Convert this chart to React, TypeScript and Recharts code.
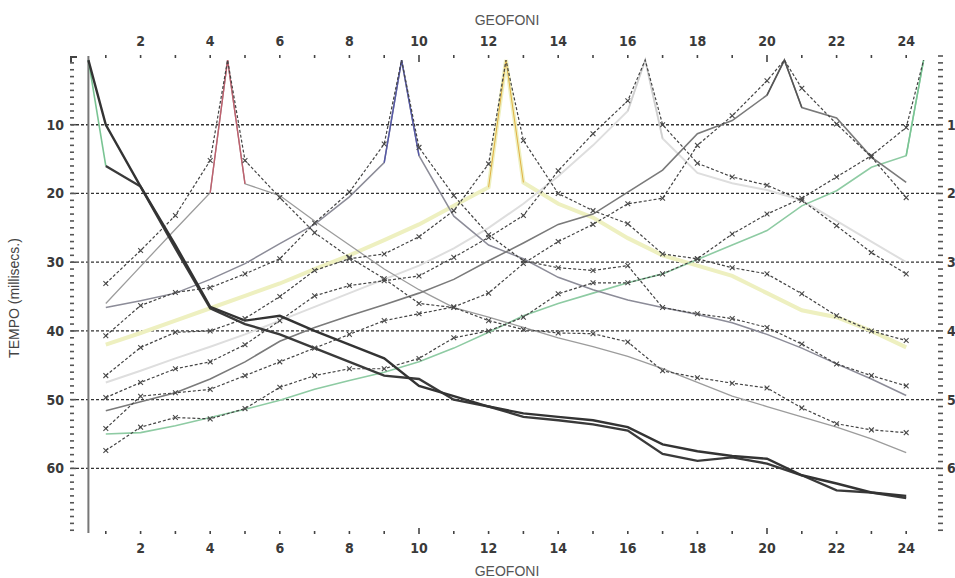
import React from "react";
import { LineChart, Line, XAxis, YAxis, ReferenceLine } from "recharts";

// geophone positions and shot points (in geophone units)
const geofoni = [1, 2, 3, 4, 5, 6, 7, 8, 9, 10, 11, 12, 13, 14, 15, 16, 17, 18, 19, 20, 21, 22, 23, 24];
const shotPos = [0.5, 4.5, 9.5, 12.5, 16.5, 20.5, 24.5];
const shotTime = [0.6, 0.6, 0.6, 0.6, 0.6, 0.6, 0.6];

const timeTicks = [10, 20, 30, 40, 50, 60];
const topLabels = [2, 4, 6, 8, 10, 12, 14, 16, 18, 20, 22, 24];

// observed first arrivals (ms) at geophones 1..24, one list per shot
const obs1 = [10, 19, 27.5, 36.5, 38.5, 37.8, 40, 42, 44, 48, 49.5, 51, 52, 52.5, 53, 54, 56.5, 57.5, 58.2, 58.6, 61, 62.2, 63.5, 64];
const obs2 = [33.1, 28.3, 23.2, 15.2, 15.2, 20.6, 25.7, 29.3, 32.4, 36, 36.6, 38.5, 39.8, 40.3, 40.4, 41.6, 45.8, 46.8, 47.6, 48.3, 51.2, 53.5, 54.4, 54.8];
const obs3 = [40.7, 36.3, 34.4, 33.7, 31.7, 29.5, 24.3, 19.8, 12.8, 13.3, 20.3, 26, 29.8, 30.8, 31.2, 30.5, 36.6, 37.5, 38.2, 39.5, 41.9, 44.8, 46.5, 48];
const obs4 = [46.5, 42.4, 40.2, 40, 38.2, 35, 31.2, 29.5, 28.8, 26.3, 22.5, 15.7, 12.3, 20, 22.5, 24.4, 28.8, 29.5, 30.8, 31.7, 34.6, 37.8, 40, 41.4];
const obs5 = [49.7, 47.5, 45.5, 44.5, 42, 38.5, 34.9, 33.4, 32.7, 32, 29.3, 26.4, 23.2, 16.7, 11.3, 6.5, 10, 15.6, 17.6, 18.8, 21, 24.7, 28.6, 31.7];
const obs6 = [54.2, 49.5, 49, 48.5, 46.5, 44.5, 42.5, 40.5, 38.5, 37.5, 36.5, 34.5, 30.2, 27, 24.5, 21.5, 20.7, 13, 8.7, 3.6, 4.7, 9.9, 14.7, 20.6];
const obs7 = [57.4, 54, 52.6, 52.8, 51.3, 48.2, 46.5, 45.5, 45.5, 44, 41, 40, 38, 34.6, 33, 33, 31.7, 29.5, 25.9, 23, 20.7, 17.6, 14.5, 10.4];

// computed travel times (ms) at geophones 1..24
const calc1 = [16, 19, 28, 36.7, 39, 40.5, 42.5, 44.5, 46.5, 47, 50, 51, 52.5, 53, 53.6, 54.5, 57.9, 58.9, 58.4, 59.3, 61, 63.2, 63.5, 64.3];
const calc2 = [36, 30.6, 25.2, 19.9, 18.6, 20.3, 24, 27.5, 31, 34, 36.6, 38, 39.5, 41, 42.3, 43.7, 45.5, 47.5, 49.5, 51, 52.5, 54, 55.7, 57.7];
const calc3 = [36.6, 35.6, 34.5, 32.5, 30.2, 27.3, 24.5, 20.5, 15.5, 14.5, 23.3, 27.5, 29.5, 32.2, 34, 35.5, 36.6, 37.6, 38.8, 40.5, 42.5, 44.8, 47, 49.4];
const calc4 = [42, 40.3, 38.5, 36.7, 34.9, 33.1, 31, 29, 26.8, 24.5, 21.8, 19.1, 18.4, 21.5, 23.5, 26.5, 29, 30.5, 32, 34.5, 37, 38, 40, 42.4];
const calc5 = [47.5, 45.8, 44, 42.3, 40.5, 38.5, 36.5, 34.5, 32.5, 30.5, 28, 25, 21.5, 17.5, 13, 8, 12, 17, 18.5, 19.5, 21, 24, 27, 30];
const calc6 = [51.6, 50.3, 49, 47, 44.5, 41.5, 39.5, 37.8, 36.2, 34.5, 32.5, 29.8, 27.2, 24.5, 23, 19.8, 16.6, 11.3, 9.4, 5.7, 7.5, 9, 14.7, 18.4];
const calc7 = [55, 54.8, 53.8, 52.6, 51.4, 50.1, 48.5, 47.2, 46, 44.5, 42.5, 40.2, 37.8, 36, 34.5, 33, 31.7, 29.6, 27.5, 25.4, 21.8, 19.6, 16.2, 14.5];

const observed = [obs1, obs2, obs3, obs4, obs5, obs6, obs7];
const computed = [calc1, calc2, calc3, calc4, calc5, calc6, calc7];

const calcColor = ["#3a3a3a", "#9c9c9c", "#8c8c98", "#eef0c0", "#dedede", "#7a7a7a", "#8ecba3"];
const calcWidth = [2.4, 1.3, 1.5, 4, 2, 1.6, 1.6];
const peakColor = ["#79c493", "#c0606e", "#5558a8", "#e0b040", "#cfcfcf", "#555555", "#79c493"];

type Pt = { x: number; t: number };

function withShot(shot: number, vals: number[]): Pt[] {
  const pts: Pt[] = geofoni.map((g, i) => ({ x: g, t: vals[i] }));
  const idx = pts.findIndex((p) => p.x > shotPos[shot]);
  pts.splice(idx < 0 ? pts.length : idx, 0, { x: shotPos[shot], t: shotTime[shot] });
  return pts;
}

function nearShot(shot: number, vals: number[]): Pt[] {
  const s = shotPos[shot];
  const out: Pt[] = [];
  const li = geofoni.indexOf(s - 0.5);
  const ri = geofoni.indexOf(s + 0.5);
  if (li >= 0) out.push({ x: geofoni[li], t: vals[li] });
  out.push({ x: s, t: shotTime[shot] });
  if (ri >= 0) out.push({ x: geofoni[ri], t: vals[ri] });
  return out;
}

const font = "'Liberation Sans Narrow', 'DejaVu Sans Condensed', 'Liberation Sans', sans-serif";

const crossDot = (id: string) => (p: any) => {
  const { cx, cy, payload, index } = p;
  if (cx == null || cy == null || payload.x % 1 !== 0) return <g key={`${id}-${index}`} />;
  const r = 2.4;
  return (
    <path
      key={`${id}-${index}`}
      d={`M${cx - r},${cy - r}L${cx + r},${cy + r}M${cx + r},${cy - r}L${cx - r},${cy + r}`}
      stroke="#4a4a4a"
      strokeWidth={1.1}
      fill="none"
    />
  );
};

const LeftTick = (p: any) => {
  const { x, y, payload } = p;
  const v = payload.value;
  const major = v % 10 === 0 && v > 0;
  if (v === 0) {
    return <path d={`M${x + 6},${y + 1}H${x}V${y + 6}`} stroke="#444" strokeWidth={2} fill="none" />;
  }
  return (
    <g>
      <line x1={x - 1} x2={x + (major ? 5 : 3)} y1={y} y2={y} stroke="#555" strokeWidth={1.6} />
      {major && (
        <text x={x - 7} y={y} textAnchor="end" dominantBaseline="central" fontFamily={font} fontWeight="bold" fontSize={14} fill="#3a3a3a">
          {v}
        </text>
      )}
    </g>
  );
};

const RightTick = (p: any) => {
  const { x, y, payload } = p;
  const v = payload.value;
  const major = v % 10 === 0 && v > 0;
  return (
    <g>
      <line x1={x - (major ? 5 : 3)} x2={x + 2} y1={y} y2={y} stroke="#555" strokeWidth={1.6} />
      {major && (
        <text x={x + 6} y={y} textAnchor="start" dominantBaseline="central" fontFamily={font} fontWeight="bold" fontSize={14} fill="#3a3a3a">
          {v / 10}
        </text>
      )}
    </g>
  );
};

const TopTick = (p: any) => {
  const { x, y, payload } = p;
  const v = payload.value;
  const long = v === 10 || v === 20;
  return (
    <g>
      <line x1={x} x2={x} y1={y - 1} y2={y + (long ? 6 : 2)} stroke="#444" strokeWidth={1.6} />
      {topLabels.includes(v) && (
        <text x={x} y={y - 15} textAnchor="middle" dominantBaseline="central" fontFamily={font} fontWeight="bold" fontSize={14} fill="#3a3a3a">
          {v}
        </text>
      )}
    </g>
  );
};

const BottomTick = (p: any) => {
  const { x, y, payload } = p;
  const v = payload.value;
  const long = v === 10 || v === 20;
  return (
    <g>
      <line x1={x} x2={x} y1={y - (long ? 5 : 2)} y2={y + 1} stroke="#444" strokeWidth={1.6} />
      {topLabels.includes(v) && (
        <text x={x} y={y + 15} textAnchor="middle" dominantBaseline="central" fontFamily={font} fontWeight="bold" fontSize={14} fill="#3a3a3a">
          {v}
        </text>
      )}
    </g>
  );
};

const yTicks = Array.from({ length: 70 }, (_, i) => i);

export default function App() {
  return (
    <div style={{ position: "absolute", left: 0, top: 0, width: 955, height: 578, background: "#fff" }}>
      <LineChart width={955} height={578} margin={{ top: 26, right: 0, bottom: 15, left: 41 }}>
        <XAxis xAxisId="top" orientation="top" type="number" dataKey="x" domain={[0, 25]} ticks={geofoni} interval={0}
          height={30} tickSize={0} tickMargin={0} tickLine={false} axisLine={false} tick={<TopTick />} allowDataOverflow />
        <XAxis xAxisId="bot" orientation="bottom" type="number" dataKey="x" domain={[0, 25]} ticks={geofoni} interval={0}
          height={30} tickSize={0} tickMargin={0} tickLine={false} axisLine={false} tick={<BottomTick />} allowDataOverflow />
        <YAxis yAxisId="l" orientation="left" type="number" domain={[0, 69.4]} reversed ticks={yTicks} interval={0}
          width={30} tickSize={0} tickMargin={0} tickLine={false} axisLine={false} tick={<LeftTick />} allowDataOverflow />
        <YAxis yAxisId="r" orientation="right" type="number" domain={[0, 69.4]} reversed ticks={yTicks} interval={0}
          width={14} tickSize={0} tickMargin={0} tickLine={false} axisLine={false} tick={<RightTick />} allowDataOverflow />

        {timeTicks.map((v) => (
          <ReferenceLine key={`g${v}`} xAxisId="bot" yAxisId="l" y={v} stroke="#333" strokeWidth={1.3} strokeDasharray="3 2" />
        ))}
        <ReferenceLine xAxisId="bot" yAxisId="l" x={shotPos[0]} stroke="#777" strokeWidth={2} />

        {/* computed curves, lighter ones first */}
        {[3, 4, 6, 1, 2, 5].map((s) => (
          <Line key={`c${s}`} xAxisId="bot" yAxisId="l" data={withShot(s, computed[s])} dataKey="t" type="linear"
            stroke={calcColor[s]} strokeWidth={calcWidth[s]} dot={false} activeDot={false} isAnimationActive={false} />
        ))}
        {[1, 2, 3, 4, 5, 6].map((s) => (
          <Line key={`p${s}`} xAxisId="bot" yAxisId="l" data={nearShot(s, computed[s])} dataKey="t" type="linear"
            stroke={peakColor[s]} strokeWidth={s === 3 ? 1 : 1.4} dot={false} activeDot={false} isAnimationActive={false} />
        ))}

        {/* observed first arrivals */}
        {[1, 2, 3, 4, 5, 6].map((s) => (
          <Line key={`o${s}`} xAxisId="bot" yAxisId="l" data={withShot(s, observed[s])} dataKey="t" type="linear"
            stroke="#444" strokeWidth={1.2} strokeDasharray="3 2" dot={crossDot(`o${s}`)} activeDot={false} isAnimationActive={false} />
        ))}

        {/* shot at 0.5: thick lines */}
        <Line xAxisId="bot" yAxisId="l" data={nearShot(0, computed[0])} dataKey="t" type="linear"
          stroke={peakColor[0]} strokeWidth={1.6} dot={false} activeDot={false} isAnimationActive={false} />
        <Line xAxisId="bot" yAxisId="l" data={geofoni.map((g, i) => ({ x: g, t: calc1[i] }))} dataKey="t" type="linear"
          stroke={calcColor[0]} strokeWidth={calcWidth[0]} dot={false} activeDot={false} isAnimationActive={false} />
        <Line xAxisId="bot" yAxisId="l" data={withShot(0, obs1)} dataKey="t" type="linear"
          stroke="#333" strokeWidth={2.4} dot={false} activeDot={false} isAnimationActive={false} />
      </LineChart>

      <div style={{ position: "absolute", left: 507, top: 20, transform: "translate(-50%, -50%)", fontFamily: "'Liberation Sans', sans-serif", fontSize: 14, color: "#555" }}>
        GEOFONI
      </div>
      <div style={{ position: "absolute", left: 507, top: 571, transform: "translate(-50%, -50%)", fontFamily: "'Liberation Sans', sans-serif", fontSize: 14, color: "#555" }}>
        GEOFONI
      </div>
      <div style={{ position: "absolute", left: 14, top: 298, transform: "translate(-50%, -50%) rotate(-90deg)", whiteSpace: "nowrap", fontFamily: "'Liberation Sans', sans-serif", fontSize: 14, color: "#444" }}>
        TEMPO (millisecs.)
      </div>
    </div>
  );
}
